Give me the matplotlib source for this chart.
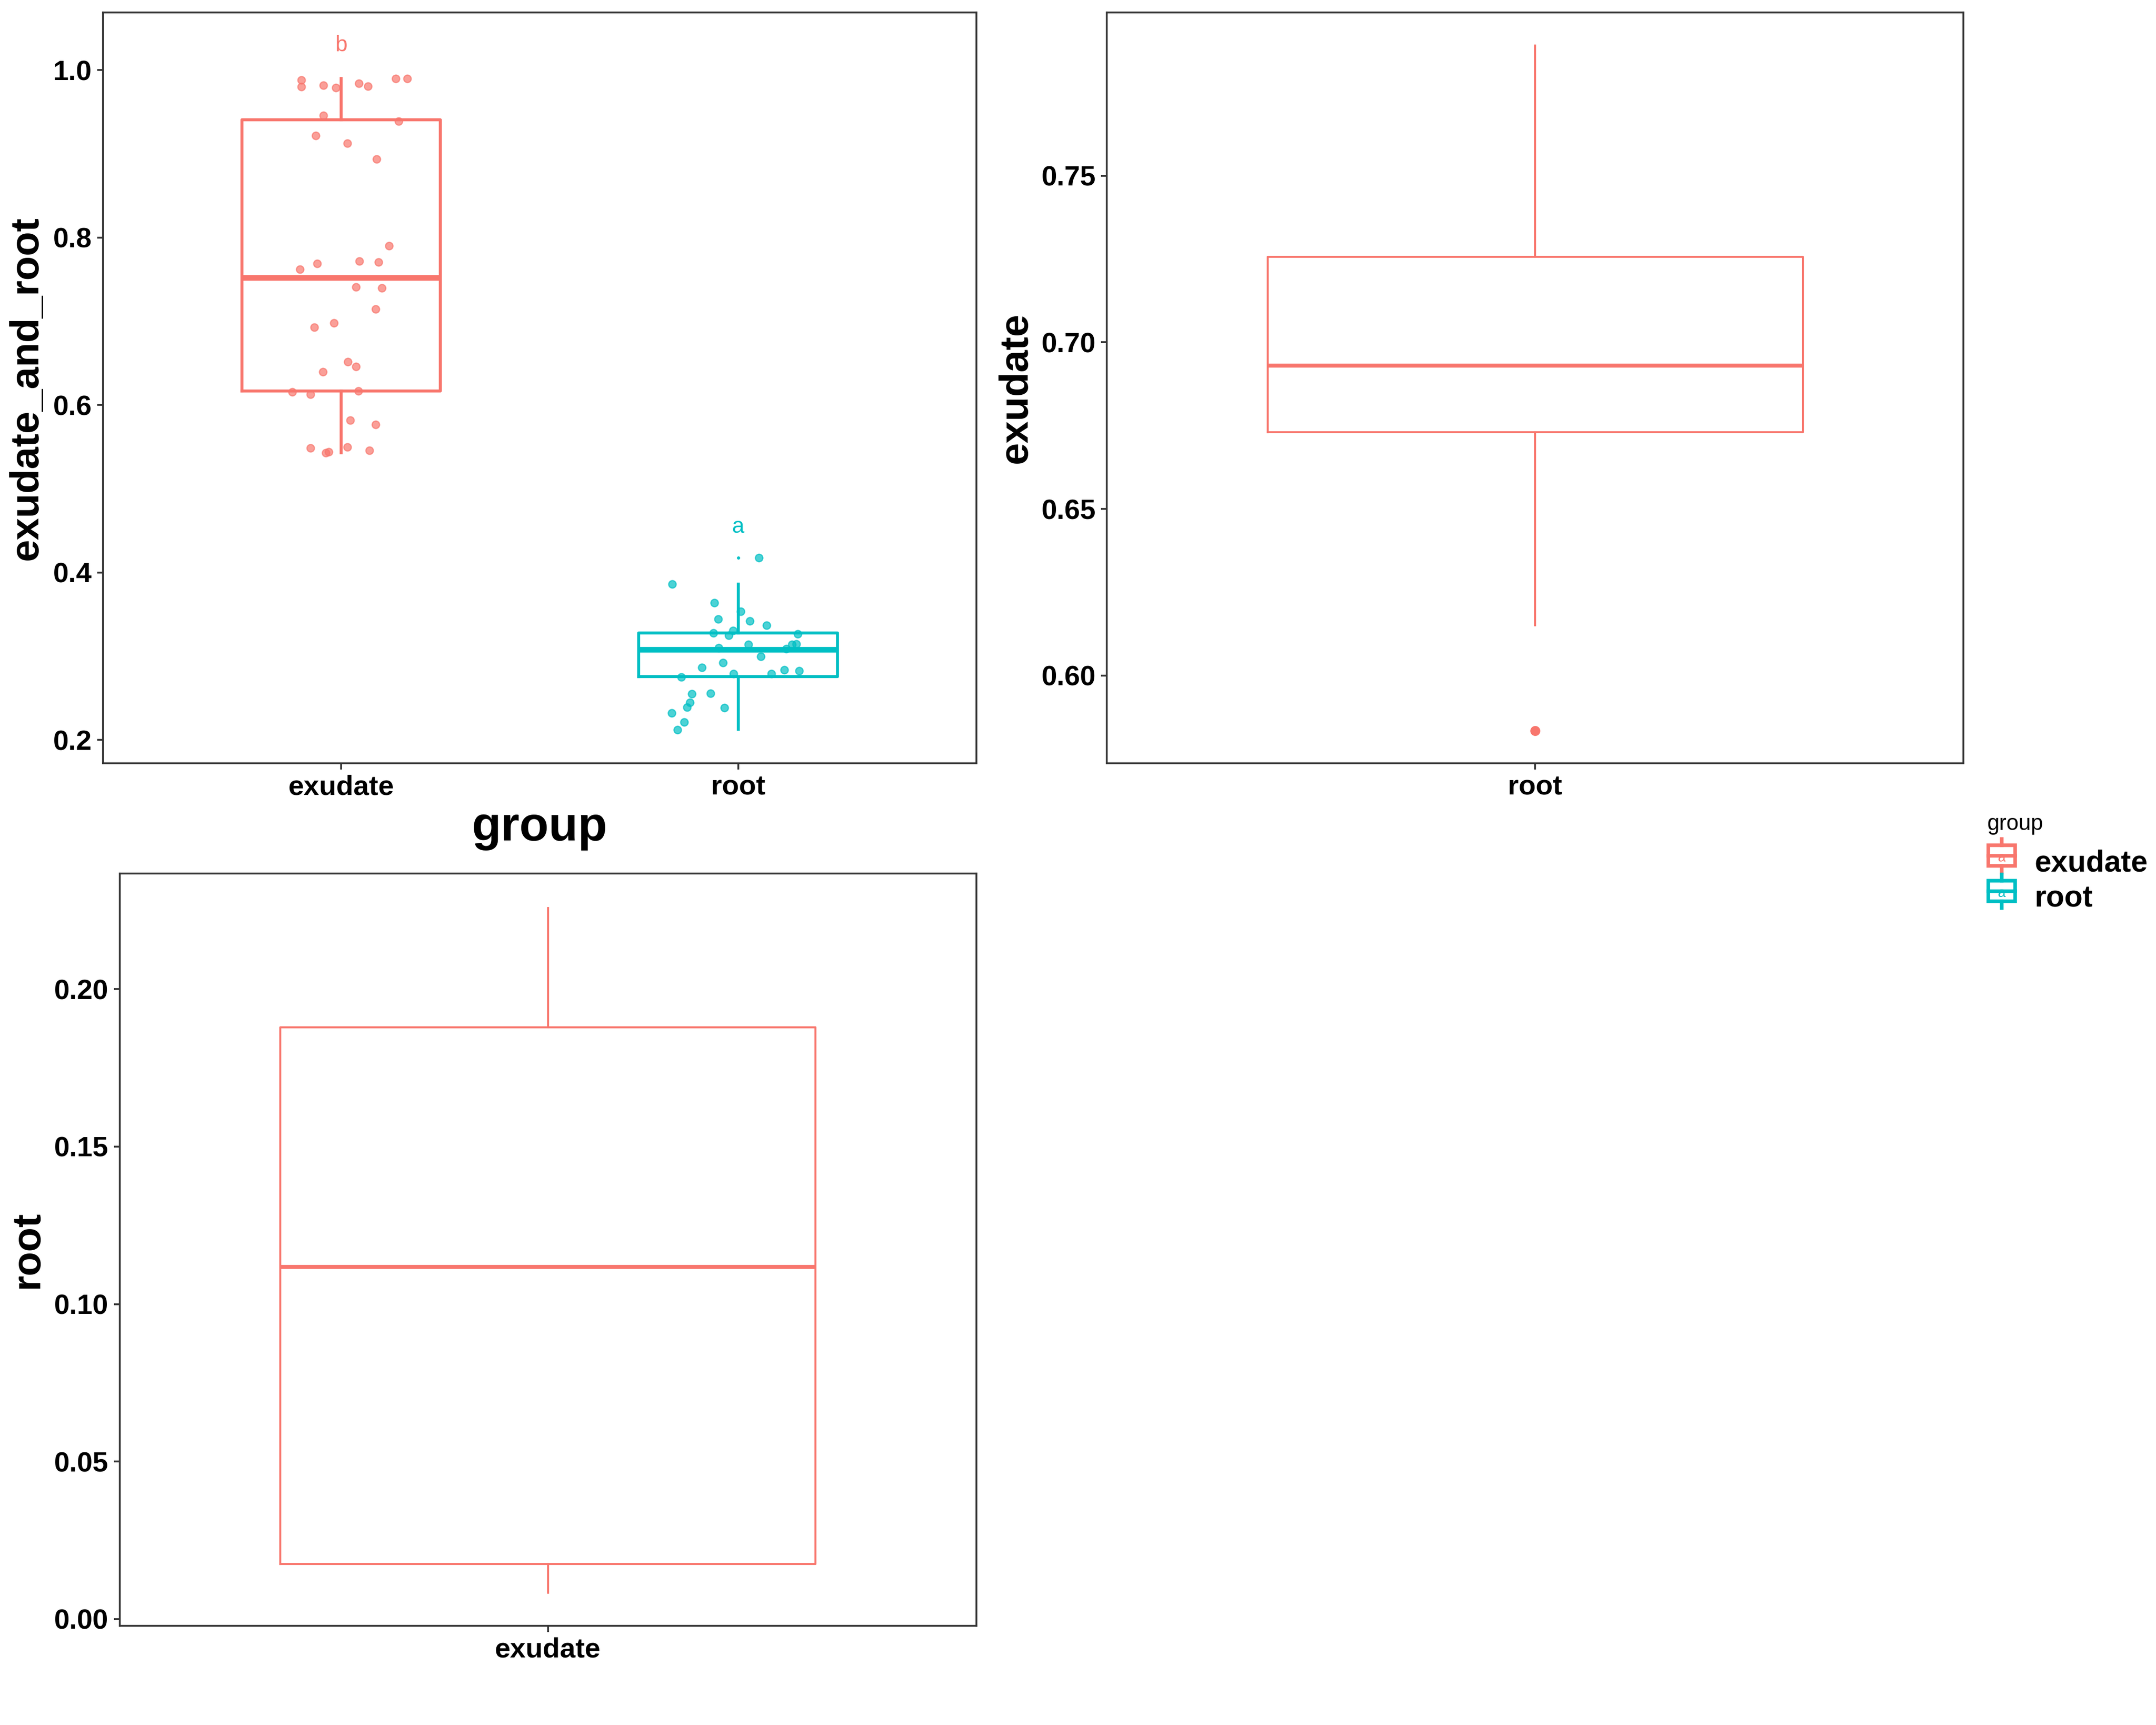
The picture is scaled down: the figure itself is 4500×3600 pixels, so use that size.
import numpy as np
import matplotlib.pyplot as plt
from matplotlib.patches import Rectangle
from matplotlib.lines import Line2D
from matplotlib.legend_handler import HandlerBase

plt.rcParams['font.family'] = ['Liberation Sans', 'DejaVu Sans']

red = '#F8766D'
teal = '#00BFC4'
frame = '#333333'

groups = ['exudate', 'root']

# jittered points, top-left panel
exu_vals = [0.988, 0.980, 0.982, 0.979, 0.984, 0.981, 0.990, 0.990, 0.946, 0.939,
            0.922, 0.913, 0.894, 0.790, 0.772, 0.771, 0.769, 0.762, 0.741, 0.740,
            0.715, 0.698, 0.693, 0.652, 0.646, 0.640, 0.616, 0.613, 0.617, 0.582,
            0.577, 0.549, 0.550, 0.546, 0.543, 0.544]
exu_jit = [-0.100, -0.100, -0.045, -0.014, 0.045, 0.068, 0.138, 0.166, -0.045, 0.145,
           -0.064, 0.016, 0.089, 0.121, 0.046, 0.094, -0.060, -0.104, 0.037, 0.103,
           0.087, -0.018, -0.068, 0.017, 0.037, -0.046, -0.123, -0.078, 0.043, 0.023,
           0.087, -0.077, 0.015, 0.071, -0.039, -0.032]
root_vals = [0.4175, 0.386, 0.364, 0.3536, 0.3444, 0.342, 0.337, 0.328, 0.331, 0.325,
             0.3265, 0.314, 0.314, 0.3147, 0.309, 0.310, 0.300, 0.2925, 0.2864, 0.2755,
             0.279, 0.279, 0.2836, 0.2826, 0.2553, 0.2555, 0.2448, 0.2393, 0.2387, 0.2324,
             0.2212, 0.212]
root_jit = [0.052, -0.166, -0.060, 0.007, -0.050, 0.029, 0.072, -0.062, -0.013, -0.024,
            0.150, 0.026, 0.136, 0.146, 0.121, -0.049, 0.057, -0.038, -0.091, -0.143,
            -0.012, 0.084, 0.117, 0.154, -0.116, -0.070, -0.121, -0.129, -0.035, -0.167,
            -0.136, -0.153]

# box statistics
box_exu = dict(whislo=0.543, q1=0.617, med=0.752, q3=0.941, whishi=0.990, fliers=[])
box_root = dict(whislo=0.2126, q1=0.2756, med=0.308, q3=0.328, whishi=0.386, fliers=[0.4175])
box_p2 = dict(whislo=0.615, q1=0.673, med=0.693, q3=0.7256, whishi=0.789, fliers=[0.5835])
box_p3 = dict(whislo=0.0083, q1=0.0175, med=0.1118, q3=0.1878, whishi=0.2258, fliers=[])

letters = ['b', 'a']
letter_y = [1.0296, 0.4546]

fig = plt.figure(figsize=(15, 12), dpi=300)
ax1 = fig.add_axes([0.0478, 0.5574, 0.4050, 0.4354])
ax2 = fig.add_axes([0.5134, 0.5574, 0.3973, 0.4354])
ax3 = fig.add_axes([0.0555, 0.0574, 0.3973, 0.4362])


def style(ax):
    for s in ax.spines.values():
        s.set_color(frame)
        s.set_linewidth(0.9)
    ax.tick_params(length=3, width=0.9, color=frame, labelsize=14, pad=2.6)
    for lab in ax.get_xticklabels() + ax.get_yticklabels():
        lab.set_fontweight('bold')


def draw_box(ax, st, pos, width, color, lw, medlw, fsize):
    ax.bxp([st], positions=[pos], widths=width, showcaps=False, patch_artist=False,
           boxprops=dict(color=color, linewidth=lw),
           whiskerprops=dict(color=color, linewidth=lw),
           medianprops=dict(color=color, linewidth=medlw, solid_capstyle='butt'),
           flierprops=dict(marker='o', markerfacecolor=color, markeredgecolor=color,
                           markersize=fsize, linestyle='none'),
           manage_ticks=False)


# panel 1
draw_box(ax1, box_exu, 1, 0.5, red, 1.5, 2.8, 1)
draw_box(ax1, box_root, 2, 0.5, teal, 1.5, 2.8, 0.6)
ax1.scatter(1 + np.array(exu_jit), exu_vals, s=14, color=red, alpha=0.7,
            edgecolors=red, linewidths=0.6, zorder=3)
ax1.scatter(2 + np.array(root_jit), root_vals, s=14, color=teal, alpha=0.7,
            edgecolors=teal, linewidths=0.6, zorder=3)
for i, (lt, yy) in enumerate(zip(letters, letter_y)):
    ax1.text(i + 1, yy, lt, color=[red, teal][i], fontsize=11, ha='center', va='center')
ax1.set_xlim(0.4, 2.6)
ax1.set_ylim(0.172, 1.069)
ax1.set_xticks([1, 2])
ax1.set_xticklabels(groups)
ax1.set_yticks([0.2, 0.4, 0.6, 0.8, 1.0])
ax1.set_ylabel('exudate_and_root', fontsize=20, fontweight='bold')
ax1.yaxis.set_label_coords(-0.066, 0.5)
ax1.set_xlabel('group', fontsize=24, fontweight='bold')
ax1.xaxis.set_label_coords(0.5, -0.056)
style(ax1)

# panel 2
draw_box(ax2, box_p2, 1, 0.75, red, 1.0, 2.0, 4)
ax2.set_xlim(0.4, 1.6)
ax2.set_ylim(0.5736, 0.799)
ax2.set_xticks([1])
ax2.set_xticklabels(['root'])
ax2.set_yticks([0.60, 0.65, 0.70, 0.75])
ax2.set_yticklabels(['0.60', '0.65', '0.70', '0.75'])
ax2.set_ylabel('exudate', fontsize=20, fontweight='bold')
ax2.yaxis.set_label_coords(-0.084, 0.5)
style(ax2)

# panel 3
draw_box(ax3, box_p3, 1, 0.75, red, 1.0, 2.0, 4)
ax3.set_xlim(0.4, 1.6)
ax3.set_ylim(-0.0022, 0.2367)
ax3.set_xticks([1])
ax3.set_xticklabels(['exudate'])
ax3.set_yticks([0.0, 0.05, 0.10, 0.15, 0.20])
ax3.set_yticklabels(['0.00', '0.05', '0.10', '0.15', '0.20'])
ax3.set_ylabel('root', fontsize=20, fontweight='bold')
ax3.yaxis.set_label_coords(-0.086, 0.5)
style(ax3)


class BoxKey(HandlerBase):
    def __init__(self, color):
        super().__init__()
        self.color = color

    def create_artists(self, legend, orig, xd, yd, w, h, fontsize, trans):
        c = self.color
        cx = xd + w / 2
        rect = Rectangle((xd + w * 0.05, yd + h * 0.1), w * 0.9, h * 0.8,
                         fill=False, edgecolor=c, linewidth=1.8, transform=trans)
        med = Line2D([xd + w * 0.05, xd + w * 0.95], [yd + h / 2, yd + h / 2],
                     color=c, linewidth=1.8, transform=trans)
        wt = Line2D([cx, cx], [yd + h * 0.9, yd + h * 1.15], color=c, linewidth=1.8, transform=trans)
        wb = Line2D([cx, cx], [yd + h * 0.1, yd - h * 0.15], color=c, linewidth=1.8, transform=trans)
        txt = plt.Text(cx, yd + h * 0.42, 'a', color=c, fontsize=7, ha='center', va='center',
                       transform=trans)
        return [rect, med, wt, wb, txt]


h_exu = Rectangle((0, 0), 1, 1)
h_root = Rectangle((0, 0), 1, 1)
leg = fig.legend([h_exu, h_root], groups, handler_map={h_exu: BoxKey(red), h_root: BoxKey(teal)},
                 loc='upper left', bbox_to_anchor=(0.909, 0.524), frameon=False,
                 prop=dict(size=15, weight='bold'), handlelength=1.0, handleheight=0.95,
                 handletextpad=0.6, labelspacing=0.2)
fig.text(0.9216, 0.5223, 'group', fontsize=11, ha='left', va='center')

fig.savefig('out.png', dpi=300)
